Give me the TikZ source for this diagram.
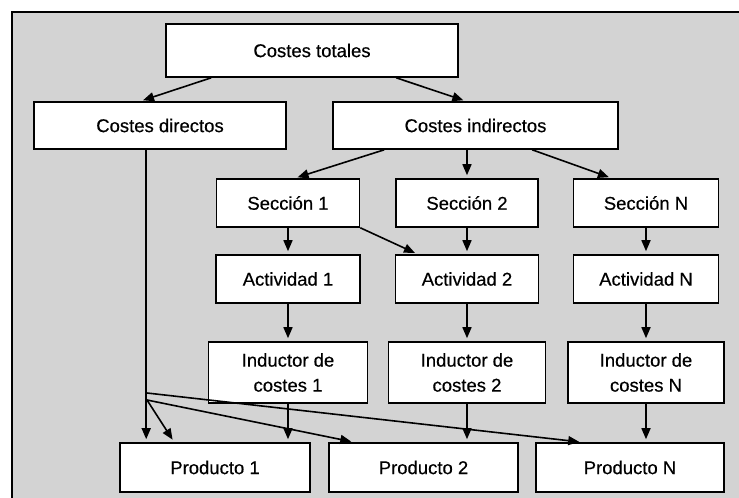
\documentclass[tikz,border=0pt]{standalone}
\usepackage{fontspec}
\setmainfont[FakeBold=0.4]{Liberation Sans}
\usetikzlibrary{arrows.meta}
\definecolor{panel}{RGB}{211,211,211}
\begin{document}
\begin{tikzpicture}[x=1pt,y=-1pt,
  box/.style={draw=black, fill=white, line width=1.6pt, inner sep=0pt,
    font=\fontsize{18.5}{25}\selectfont, align=center},
  arr/.style={line width=1.6pt, -{Triangle[length=11pt,width=9pt]}, shorten >=3pt}]
  \useasboundingbox (0,0) rectangle (739,498);
  % grey panel with its top and left edge
  \fill[panel] (12,12) rectangle (739,498);
  \draw[line width=1.6pt] (12,498) -- (12,12) -- (739,12);

  % boxes
  \node[box, minimum width=292, minimum height=53] (tot) at (312,50.5) {Costes totales};
  \node[box, minimum width=252, minimum height=47] (dir) at (160,125.5) {Costes directos};
  \node[box, minimum width=285, minimum height=47] (ind) at (475.5,125.5) {Costes indirectos};

  \node[box, minimum width=143, minimum height=48] (s1) at (288,203) {Sección 1};
  \node[box, minimum width=142, minimum height=48] (s2) at (467,203) {Sección 2};
  \node[box, minimum width=145, minimum height=48] (sN) at (646,203) {Sección N};

  \node[box, minimum width=144, minimum height=48] (a1) at (288,279) {Actividad 1};
  \node[box, minimum width=143, minimum height=48] (a2) at (467,279) {Actividad 2};
  \node[box, minimum width=145, minimum height=48] (aN) at (646,279) {Actividad N};

  \node[box, minimum width=159, minimum height=61] (i1) at (288,372.5) {Inductor de\\costes 1};
  \node[box, minimum width=157, minimum height=61] (i2) at (467,372.5) {Inductor de\\costes 2};
  \node[box, minimum width=156, minimum height=61] (iN) at (646,372.5) {Inductor de\\costes N};

  \node[box, minimum width=190, minimum height=49] (p1) at (215,467.5) {Producto 1};
  \node[box, minimum width=189, minimum height=49] (p2) at (423.5,467.5) {Producto 2};
  \node[box, minimum width=188, minimum height=49] (pN) at (630,467.5) {Producto N};

  % split of the total costs
  \draw[arr] ([xshift=46pt]tot.south west) -- ([xshift=107pt]dir.north west);
  \draw[arr] ([xshift=231pt]tot.south west) -- ([xshift=134pt]ind.north west);

  % indirect costs to sections
  \draw[arr] ([xshift=52pt]ind.south west) -- ([xshift=79pt]s1.north west);
  \draw[arr] (s2.north |- ind.south) -- (s2.north);
  \draw[arr] ([xshift=200pt]ind.south west) -- ([xshift=39pt]sN.north west);

  % sections to activities
  \draw[arr] (s1.south) -- (s1.south |- a1.north);
  \draw[arr] (s1.south east) -- ([xshift=23pt]a2.north west);
  \draw[arr] (s2.south) -- (s2.south |- a2.north);
  \draw[arr] (sN.south) -- (sN.south |- aN.north);

  % activities to cost drivers
  \draw[arr] (a1.south) -- (a1.south |- i1.north);
  \draw[arr] (a2.south) -- (a2.south |- i2.north);
  \draw[arr] (aN.south) -- (aN.south |- iN.north);

  % cost drivers to products
  \draw[arr] (i1.south) -- (i1.south |- p1.north);
  \draw[arr] (i2.south) -- (i2.south |- p2.north);
  \draw[arr] (iN.south) -- (iN.south |- pN.north);

  % direct costs straight to the products
  \coordinate (jn) at (147,393);
  \coordinate (jp) at (147,400);
  \draw[arr] ([xshift=113pt]dir.south west) -- ([xshift=27pt]p1.north west);
  \draw[arr] (jp) -- ([xshift=55pt]p1.north west);
  \draw[arr] (jp) -- ([xshift=26pt]p2.north west);
  \draw[arr] (jn) -- ([xshift=47pt]pN.north west);
\end{tikzpicture}
\end{document}
